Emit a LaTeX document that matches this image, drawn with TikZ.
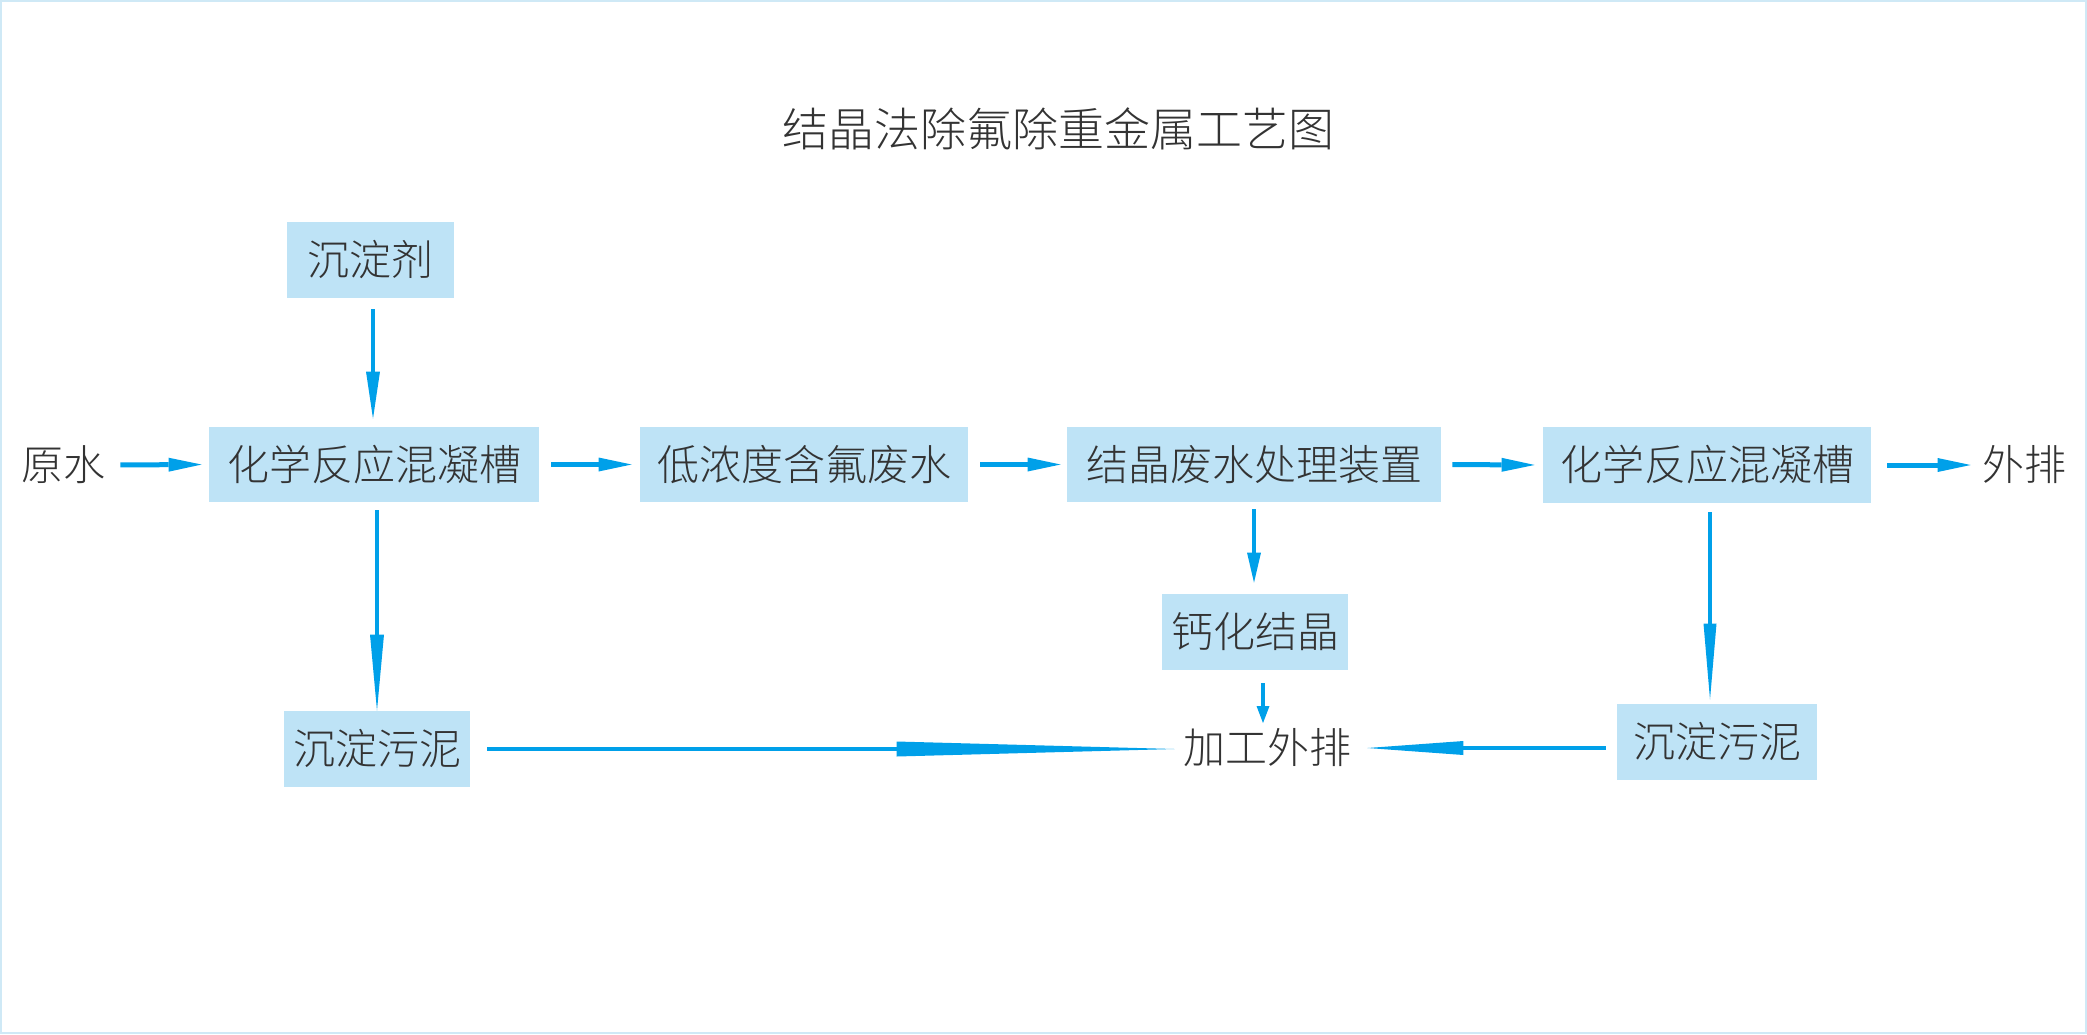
\documentclass[tikz,border=0pt]{standalone}
\usepackage{fontspec}
\newfontfamily\cjk{Noto Sans CJK SC Light}
\usetikzlibrary{arrows.meta}
\definecolor{boxblue}{HTML}{BEE3F6}
\definecolor{arrblue}{HTML}{00A0E9}
\definecolor{txt}{HTML}{333333}
\definecolor{framec}{HTML}{CFE9F6}
\begin{document}
\begin{tikzpicture}[x=0.5pt,y=-0.5pt,
 box/.style={fill=boxblue, inner sep=0pt, text=txt, font=\cjk\fontsize{21}{21}\selectfont},
 lbl/.style={inner sep=0pt, text=txt, font=\cjk\fontsize{21}{21}\selectfont},
 harr/.style={draw=arrblue, line width=2.5pt, -{Triangle[length=16.5pt,width=7pt,line width=0pt]}},
 varr/.style={draw=arrblue, line width=2.2pt},
]
\useasboundingbox (0,0) rectangle (2087,1034);
\draw[framec, line width=1pt] (1,1) rectangle (2086,1033);

\node[lbl, font=\cjk\fontsize{23}{23}\selectfont] (title) at (1058,129) {结晶法除氟除重金属工艺图};
\node[box, minimum width=83.5pt, minimum height=38pt] (agent) at (370.5,260) {沉淀剂};
\node[lbl] (raw) at (63.5,465) {原水};
\node[box, minimum width=165pt, minimum height=37.5pt] (cm1) at (374,464.5) {化学反应混凝槽};
\node[box, minimum width=164pt, minimum height=37.5pt] (low) at (804,464.5) {低浓度含氟废水};
\node[box, minimum width=187pt, minimum height=37.5pt] (cry) at (1254,464.5) {结晶废水处理装置};
\node[box, minimum width=164pt, minimum height=38pt] (cm2) at (1707,465) {化学反应混凝槽};
\node[lbl] (out) at (2024.5,465) {外排};
\node[box, minimum width=93pt, minimum height=38pt] (s1) at (377,749) {沉淀污泥};
\node[box, minimum width=93pt, minimum height=38pt] (ca) at (1255,632) {钙化结晶};
\node[lbl] (jg) at (1267,748) {加工外排};
\node[box, minimum width=100pt, minimum height=38pt] (s2) at (1717,742) {沉淀污泥};

% top row
\draw[harr, shorten <=7.25pt, shorten >=3.5pt] (raw.east) -- (cm1.west);
\draw[harr, shorten <=6pt, shorten >=4pt] (cm1.east) -- (low.west);
\draw[harr, shorten <=6pt, shorten >=3pt] (low.east) -- (cry.west);
\draw[harr, shorten <=5.5pt, shorten >=4pt] (cry.east) -- (cm2.west);
\draw[harr, shorten <=8pt, shorten >=5.75pt] (cm2.east) -- (out.west);

% verticals
\draw[varr, -{Triangle[length=23.5pt,width=7pt,line width=0pt]}, shorten <=5.5pt, shorten >=4pt]
  ([xshift=1.25pt]agent.south) -- ([xshift=1.25pt]agent.south |- cm1.north);
\draw[varr, line width=2pt, -{Triangle[length=38pt,width=7pt,line width=0pt]}, shorten <=4pt]
  (cm1.south -| s1.north) -- (s1.north);
\draw[varr, -{Triangle[length=15pt,width=7pt,line width=0pt]}, shorten <=3.5pt, shorten >=5.5pt]
  (cry.south) -- (cry.south |- ca.north);
\draw[varr, -{Triangle[length=8.5pt,width=6.5pt,line width=0pt]}, shorten <=6.5pt, shorten >=12.5pt]
  ([xshift=4pt]ca.south) -- ([xshift=4pt]ca.south |- jg.center);
\draw[varr, line width=2pt, -{Triangle[length=38pt,width=6.5pt,line width=0pt]}, shorten <=4.5pt, shorten >=2pt]
  ([xshift=1.5pt]cm2.south) -- ([xshift=1.5pt]cm2.south |- s2.north);

% bottom
\draw[varr, line width=2.35pt, -{Triangle[length=139pt,width=7.5pt,line width=0pt]}, shorten <=8.5pt, shorten >=4pt]
  (s1.east) -- (s1.east -| jg.west);
\draw[varr, line width=2.35pt, -{Triangle[length=48pt,width=7pt,line width=0pt]}, shorten <=5.5pt, shorten >=8pt]
  (s2.west |- jg.east) -- (jg.east);
\end{tikzpicture}
\end{document}
